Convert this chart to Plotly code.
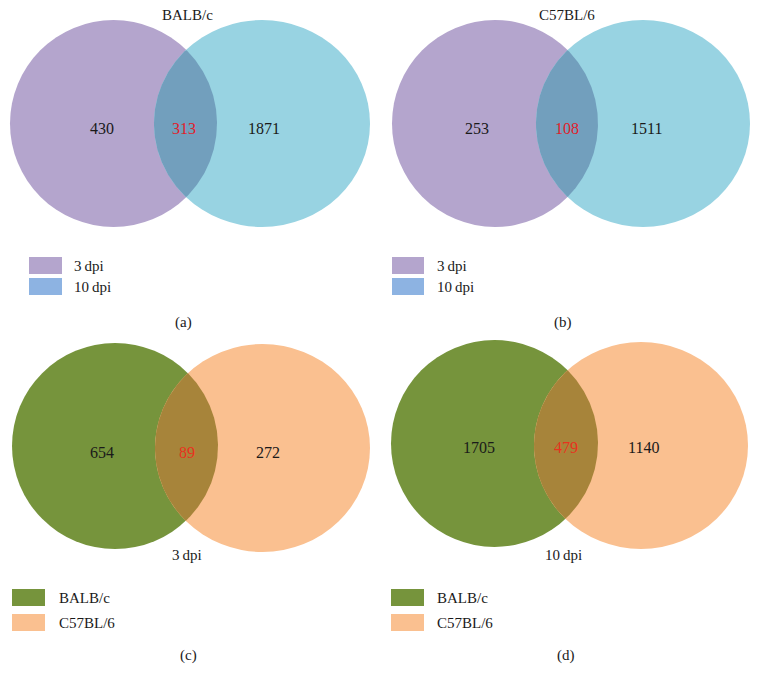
import numpy as np
import plotly.graph_objects as go

# ---- data ----
panel_labels = ["(a)", "(b)", "(c)", "(d)"]
panel_titles = ["BALB/c", "C57BL/6", "3\u2009dpi", "10\u2009dpi"]
left_only = [430, 253, 654, 1705]
shared = [313, 108, 89, 479]
right_only = [1871, 1511, 272, 1140]
legend_names = [["3\u2009dpi", "10\u2009dpi"], ["3\u2009dpi", "10\u2009dpi"],
                ["BALB/c", "C57BL/6"], ["BALB/c", "C57BL/6"]]

# ---- layout geometry (pixel coordinates) ----
geom = [
    dict(L=(10, 20, 217, 227), R=(154, 20, 370, 227), title_y=15, title_x=187, text_y=128,
         lx=(29, 62, 72), ly=(257, 278), lab=(183, 322), text_x=(102, 184, 264)),
    dict(L=(392, 20, 598, 227), R=(536, 20, 750, 227), title_y=15, title_x=567, text_y=128,
         lx=(392, 424, 435), ly=(257, 278), lab=(563, 322), text_x=(477, 567, 646)),
    dict(L=(12, 343, 218, 549), R=(155, 344, 370, 552), title_y=555, title_x=187, text_y=452,
         lx=(12, 45, 57), ly=(589, 614), lab=(188, 655), text_x=(102, 187, 268)),
    dict(L=(391, 340, 598, 547), R=(534, 342, 748, 549), title_y=555, title_x=563, text_y=447,
         lx=(391, 424, 435), ly=(589, 614), lab=(566, 655), text_x=(479, 566, 643)),
]
styles = [
    dict(c1="#b4a5cd", c2="#98d3e2", ov="#729fbd", s1="#b4a5cd", s2="#8db3e2", red="#e0202a"),
    dict(c1="#b4a5cd", c2="#98d3e2", ov="#729fbd", s1="#b4a5cd", s2="#8db3e2", red="#e0202a"),
    dict(c1="#76943c", c2="#fac090", ov="#a7843a", s1="#76943c", s2="#fac090", red="#e8321e"),
    dict(c1="#76943c", c2="#fac090", ov="#a7843a", s1="#76943c", s2="#fac090", red="#e8321e"),
]

FONT = "Liberation Serif"
fig = go.Figure()
shapes = []
annotations = []


def ellipse_pts(box, n=720):
    x0, y0, x1, y1 = box
    cx, cy, rx, ry = (x0 + x1) / 2, (y0 + y1) / 2, (x1 - x0) / 2, (y1 - y0) / 2
    t = np.linspace(0, 2 * np.pi, n, endpoint=False)
    return cx + rx * np.cos(t), cy + ry * np.sin(t)


def inside(box, x, y):
    x0, y0, x1, y1 = box
    cx, cy, rx, ry = (x0 + x1) / 2, (y0 + y1) / 2, (x1 - x0) / 2, (y1 - y0) / 2
    return ((x - cx) / rx) ** 2 + ((y - cy) / ry) ** 2 <= 1.0


for i in range(4):
    g, s = geom[i], styles[i]
    for box, col in ((g["L"], s["c1"]), (g["R"], s["c2"])):
        shapes.append(dict(type="circle", xref="x", yref="y", x0=box[0], y0=box[1],
                           x1=box[2], y1=box[3], fillcolor=col, line=dict(width=0), layer="below"))
    # lens
    ax, ay = ellipse_pts(g["L"])
    bx, by = ellipse_pts(g["R"])
    m1 = inside(g["R"], ax, ay)
    m2 = inside(g["L"], bx, by)
    px = np.concatenate([ax[m1], bx[m2]])
    py = np.concatenate([ay[m1], by[m2]])
    cx, cy = px.mean(), py.mean()
    order = np.argsort(np.arctan2(py - cy, px - cx))
    px, py = px[order], py[order]
    fig.add_trace(go.Scatter(x=np.append(px, px[0]), y=np.append(py, py[0]), mode="lines",
                             fill="toself", fillcolor=s["ov"], line=dict(width=0, color=s["ov"]),
                             hoverinfo="skip", showlegend=False))
    # numbers
    for val, xx, col in ((left_only[i], g["text_x"][0], "#1a1a1a"),
                         (shared[i], g["text_x"][1], s["red"]),
                         (right_only[i], g["text_x"][2], "#1a1a1a")):
        annotations.append(dict(x=xx, y=g["text_y"], xref="x", yref="y", text=str(val),
                                showarrow=False, font=dict(family=FONT, size=16, color=col)))
    annotations.append(dict(x=g["title_x"], y=g["title_y"], xref="x", yref="y",
                            text=panel_titles[i], showarrow=False,
                            font=dict(family=FONT, size=15, color="#1a1a1a")))
    # legend
    for k, (yy, col) in enumerate(zip(g["ly"], (s["s1"], s["s2"]))):
        shapes.append(dict(type="rect", xref="x", yref="y", x0=g["lx"][0], x1=g["lx"][1],
                           y0=yy, y1=yy + 17, fillcolor=col, line=dict(width=0)))
        annotations.append(dict(x=g["lx"][2], y=yy + 9, xref="x", yref="y", xanchor="left",
                                text=legend_names[i][k], showarrow=False,
                                font=dict(family=FONT, size=15, color="#1a1a1a")))
    annotations.append(dict(x=g["lab"][0], y=g["lab"][1], xref="x", yref="y",
                            text=panel_labels[i], showarrow=False,
                            font=dict(family=FONT, size=15, color="#1a1a1a")))

fig.update_layout(
    width=761, height=687, margin=dict(l=0, r=0, t=0, b=0),
    paper_bgcolor="white", plot_bgcolor="white",
    xaxis=dict(range=[0, 761], visible=False, fixedrange=True),
    yaxis=dict(range=[687, 0], visible=False, fixedrange=True),
    shapes=shapes, annotations=annotations, showlegend=False,
)
fig.write_html("out.html", config={"displayModeBar": False},
               post_script="document.body.style.margin='0px';document.body.style.overflow='hidden';")
